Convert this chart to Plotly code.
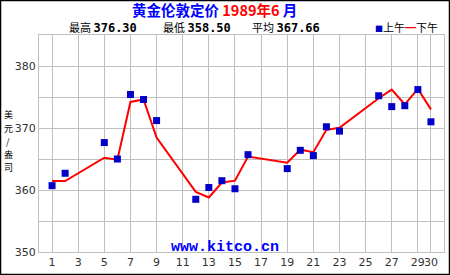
import plotly.graph_objects as go

# ---- data ----
days = [1, 2, 5, 6, 7, 8, 9, 12, 13, 14, 15, 16, 19, 20, 21, 22, 23, 26, 27, 28, 29, 30]
am_price = [360.7, 362.7, 367.65, 365.0, 375.4, 374.6, 371.2, 358.5, 360.4, 361.5, 360.2,
            365.7, 363.45, 366.4, 365.55, 370.2, 369.5, 375.2, 373.45, 373.6, 376.2, 371.0]
pm_price = [361.45, 361.45, 365.2, 364.9, 374.2, 374.6, 368.45, 359.7, 358.8, 361.2, 361.5,
            365.4, 364.4, 366.5, 366.1, 369.7, 370.05, 374.8, 376.2, 373.8, 376.3, 373.0]
x_ticks = [1, 3, 5, 7, 9, 11, 13, 15, 17, 19, 21, 23, 25, 27, 29, 30]
y_ticks = [350, 355, 360, 365, 370, 375, 380, 385]
y_labels = ["350", "", "360", "", "370", "", "380", ""]
stats_labels = ["最高", "最低", "平均"]
stats_values = ["376.30", "358.50", "367.66"]
y_title_chars = ["美", "元", "/", "盎", "司"]

W, H = 450, 275
ML, MR, MT, MB = 39, 6, 35, 23
PW, PH = W - ML - MR, H - MT - MB


def px(x):
    return (x - ML) / PW


def py(y):
    return (H - MB - y) / PH


fig = go.Figure()
fig.add_trace(go.Scatter(x=days, y=pm_price, mode="lines", name="下午",
                         line=dict(color="#ff0000", width=2), showlegend=False))
fig.add_trace(go.Scatter(x=days, y=am_price, mode="markers", name="上午",
                         marker=dict(symbol="square", size=7, color="#0000c8"),
                         showlegend=False))

annotations = []
# title
annotations.append(dict(
    text="<b>黄金伦敦定价 <span style='color:#ff0000'>1989年6</span>\u00a0月</b>",
    x=px(214), y=py(9), xref="paper", yref="paper", showarrow=False,
    xanchor="center", yanchor="middle",
    font=dict(family="Noto Sans CJK SC", size=14.5, color="#0000ff")))
# stats line
for lab, val, xp in zip(stats_labels, stats_values, [67, 161, 250]):
    annotations.append(dict(
        text=lab + " <b><span style='font-family:DejaVu Sans Mono;font-size:12px'>" + val + "</span></b>",
        x=px(xp), y=py(27), xref="paper", yref="paper",
        showarrow=False, xanchor="left", yanchor="middle",
        font=dict(family="Noto Sans CJK SC", size=11, color="#000000")))
# legend
annotations.append(dict(
    text="<span style='color:#0000c8;font-size:8px'>■</span>上午<span style='color:#ff0000'><b>━</b></span>下午",
    x=px(440), y=py(26.5), xref="paper", yref="paper", showarrow=False,
    xanchor="right", yanchor="middle",
    font=dict(family="Noto Sans CJK SC", size=11, color="#000000")))
# y axis title (stacked characters)
for i, ch in enumerate(y_title_chars):
    annotations.append(dict(
        text=ch, x=px(8), y=py(115 + 13 * i), xref="paper", yref="paper",
        showarrow=False, xanchor="center", yanchor="middle",
        font=dict(family="Noto Sans CJK SC", size=9, color="#000000")))
# watermark
annotations.append(dict(
    text="<b>www.kitco.cn</b>", x=px(225), y=py(247), xref="paper", yref="paper",
    showarrow=False, xanchor="center", yanchor="middle",
    font=dict(family="Liberation Mono", size=15, color="#0000ff")))

shapes = [dict(type="rect", xref="paper", yref="paper",
               x0=px(0.5), x1=px(W - 0.5), y0=py(H - 0.5), y1=py(0.5),
               line=dict(color="#000000", width=1.5), layer="above")]

fig.update_layout(
    width=W, height=H,
    margin=dict(l=ML, r=MR, t=MT, b=MB, pad=0),
    paper_bgcolor="#ffffff", plot_bgcolor="#ffffff",
    annotations=annotations, shapes=shapes,
    xaxis=dict(range=[0, 31], tickvals=x_ticks, ticktext=[str(v) for v in x_ticks],
               tickangle=0,
               showgrid=True, gridcolor="#c0c0c0", gridwidth=1,
               showline=True, linecolor="#c0c0c0", mirror=True, zeroline=False,
               ticks="", ticklen=0,
               tickfont=dict(family="DejaVu Sans", size=11, color="#333333")),
    yaxis=dict(range=[350, 385], tickvals=y_ticks, ticktext=y_labels,
               showgrid=True, gridcolor="#c0c0c0", gridwidth=1,
               showline=True, linecolor="#c0c0c0", mirror=True, zeroline=False,
               ticks="", ticklen=0,
               tickfont=dict(family="DejaVu Sans", size=11, color="#333333")),
)

fig.write_html("out.html")
